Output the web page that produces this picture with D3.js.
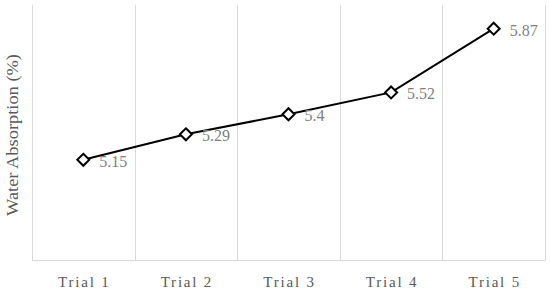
<!DOCTYPE html>
<meta charset="utf-8">
<style>
body { margin: 0; background: #fff; }
.grid line { stroke: #d9d9d9; stroke-width: 1; }
.tick-label { font-family: 'Liberation Serif', 'DejaVu Serif', serif; font-size: 15px; fill: #595959; letter-spacing: 1.8px; }
.data-label { font-family: 'Liberation Serif', 'DejaVu Serif', serif; font-size: 16px; fill: #7f7f7f; }
.y-title { font-family: 'Liberation Serif', 'DejaVu Serif', serif; font-size: 16px; fill: #595959; }
</style>
<body>
<svg width="550" height="292"></svg>
<script src="https://cdn.jsdelivr.net/npm/d3@7"></script>
<script>

var trials = ["Trial 1", "Trial 2", "Trial 3", "Trial 4", "Trial 5"];
var absorption = [5.15, 5.29, 5.4, 5.52, 5.87];
var yDomain = [4.6, 6.0];

var svg = d3.select("svg"),
    margin = {top: 5, right: 5, bottom: 32, left: 32},
    width = +svg.attr("width") - margin.left - margin.right,
    height = +svg.attr("height") - margin.top - margin.bottom;

var g = svg.append("g").attr("transform", "translate(" + margin.left + "," + margin.top + ")");

var x = d3.scaleBand().domain(trials).range([0, width]);
var y = d3.scaleLinear().domain(yDomain).range([height, 0]);

// vertical gridlines at band edges
var edges = trials.map(function(d) { return x(d); }).concat([width]);
g.append("g").attr("class", "grid")
  .selectAll("line")
  .data(edges)
  .enter().append("line")
    .attr("x1", function(d) { return Math.round(d) + 0.5; })
    .attr("x2", function(d) { return Math.round(d) + 0.5; })
    .attr("y1", 0)
    .attr("y2", height);

g.append("g").attr("class", "grid")
  .append("line")
    .attr("x1", 0).attr("x2", width + 0.5)
    .attr("y1", Math.round(height) + 0.5).attr("y2", Math.round(height) + 0.5);

// x labels
g.selectAll(".tick-label")
  .data(trials)
  .enter().append("text")
    .attr("class", "tick-label")
    .attr("x", function(d) { return x(d) + x.bandwidth() / 2 + 1; })
    .attr("y", height + 27)
    .attr("text-anchor", "middle")
    .text(function(d) { return d; });

var pts = trials.map(function(d, i) { return {t: d, v: absorption[i]}; });

var line = d3.line()
  .x(function(d) { return x(d.t) + x.bandwidth() / 2; })
  .y(function(d) { return y(d.v); });

g.append("path")
  .datum(pts)
  .attr("d", line)
  .attr("fill", "none")
  .attr("stroke", "#000")
  .attr("stroke-width", 2);

g.selectAll(".marker")
  .data(pts)
  .enter().append("path")
    .attr("class", "marker")
    .attr("d", "M0,-6L6,0L0,6L-6,0Z")
    .attr("transform", function(d) { return "translate(" + (x(d.t) + x.bandwidth() / 2) + "," + y(d.v) + ")"; })
    .attr("fill", "#fff")
    .attr("stroke", "#000")
    .attr("stroke-width", 2);

g.selectAll(".data-label")
  .data(pts)
  .enter().append("text")
    .attr("class", "data-label")
    .attr("x", function(d) { return x(d.t) + x.bandwidth() / 2 + 16; })
    .attr("y", function(d) { return y(d.v) + 7; })
    .text(function(d) { return d.v; });

svg.append("text")
  .attr("class", "y-title")
  .attr("transform", "translate(18," + (margin.top + 130) + ") rotate(-90)")
  .attr("text-anchor", "middle")
  .attr("textLength", 162)
  .attr("lengthAdjust", "spacingAndGlyphs")
  .text("Water Absorption (%)");

</script>
</body>
